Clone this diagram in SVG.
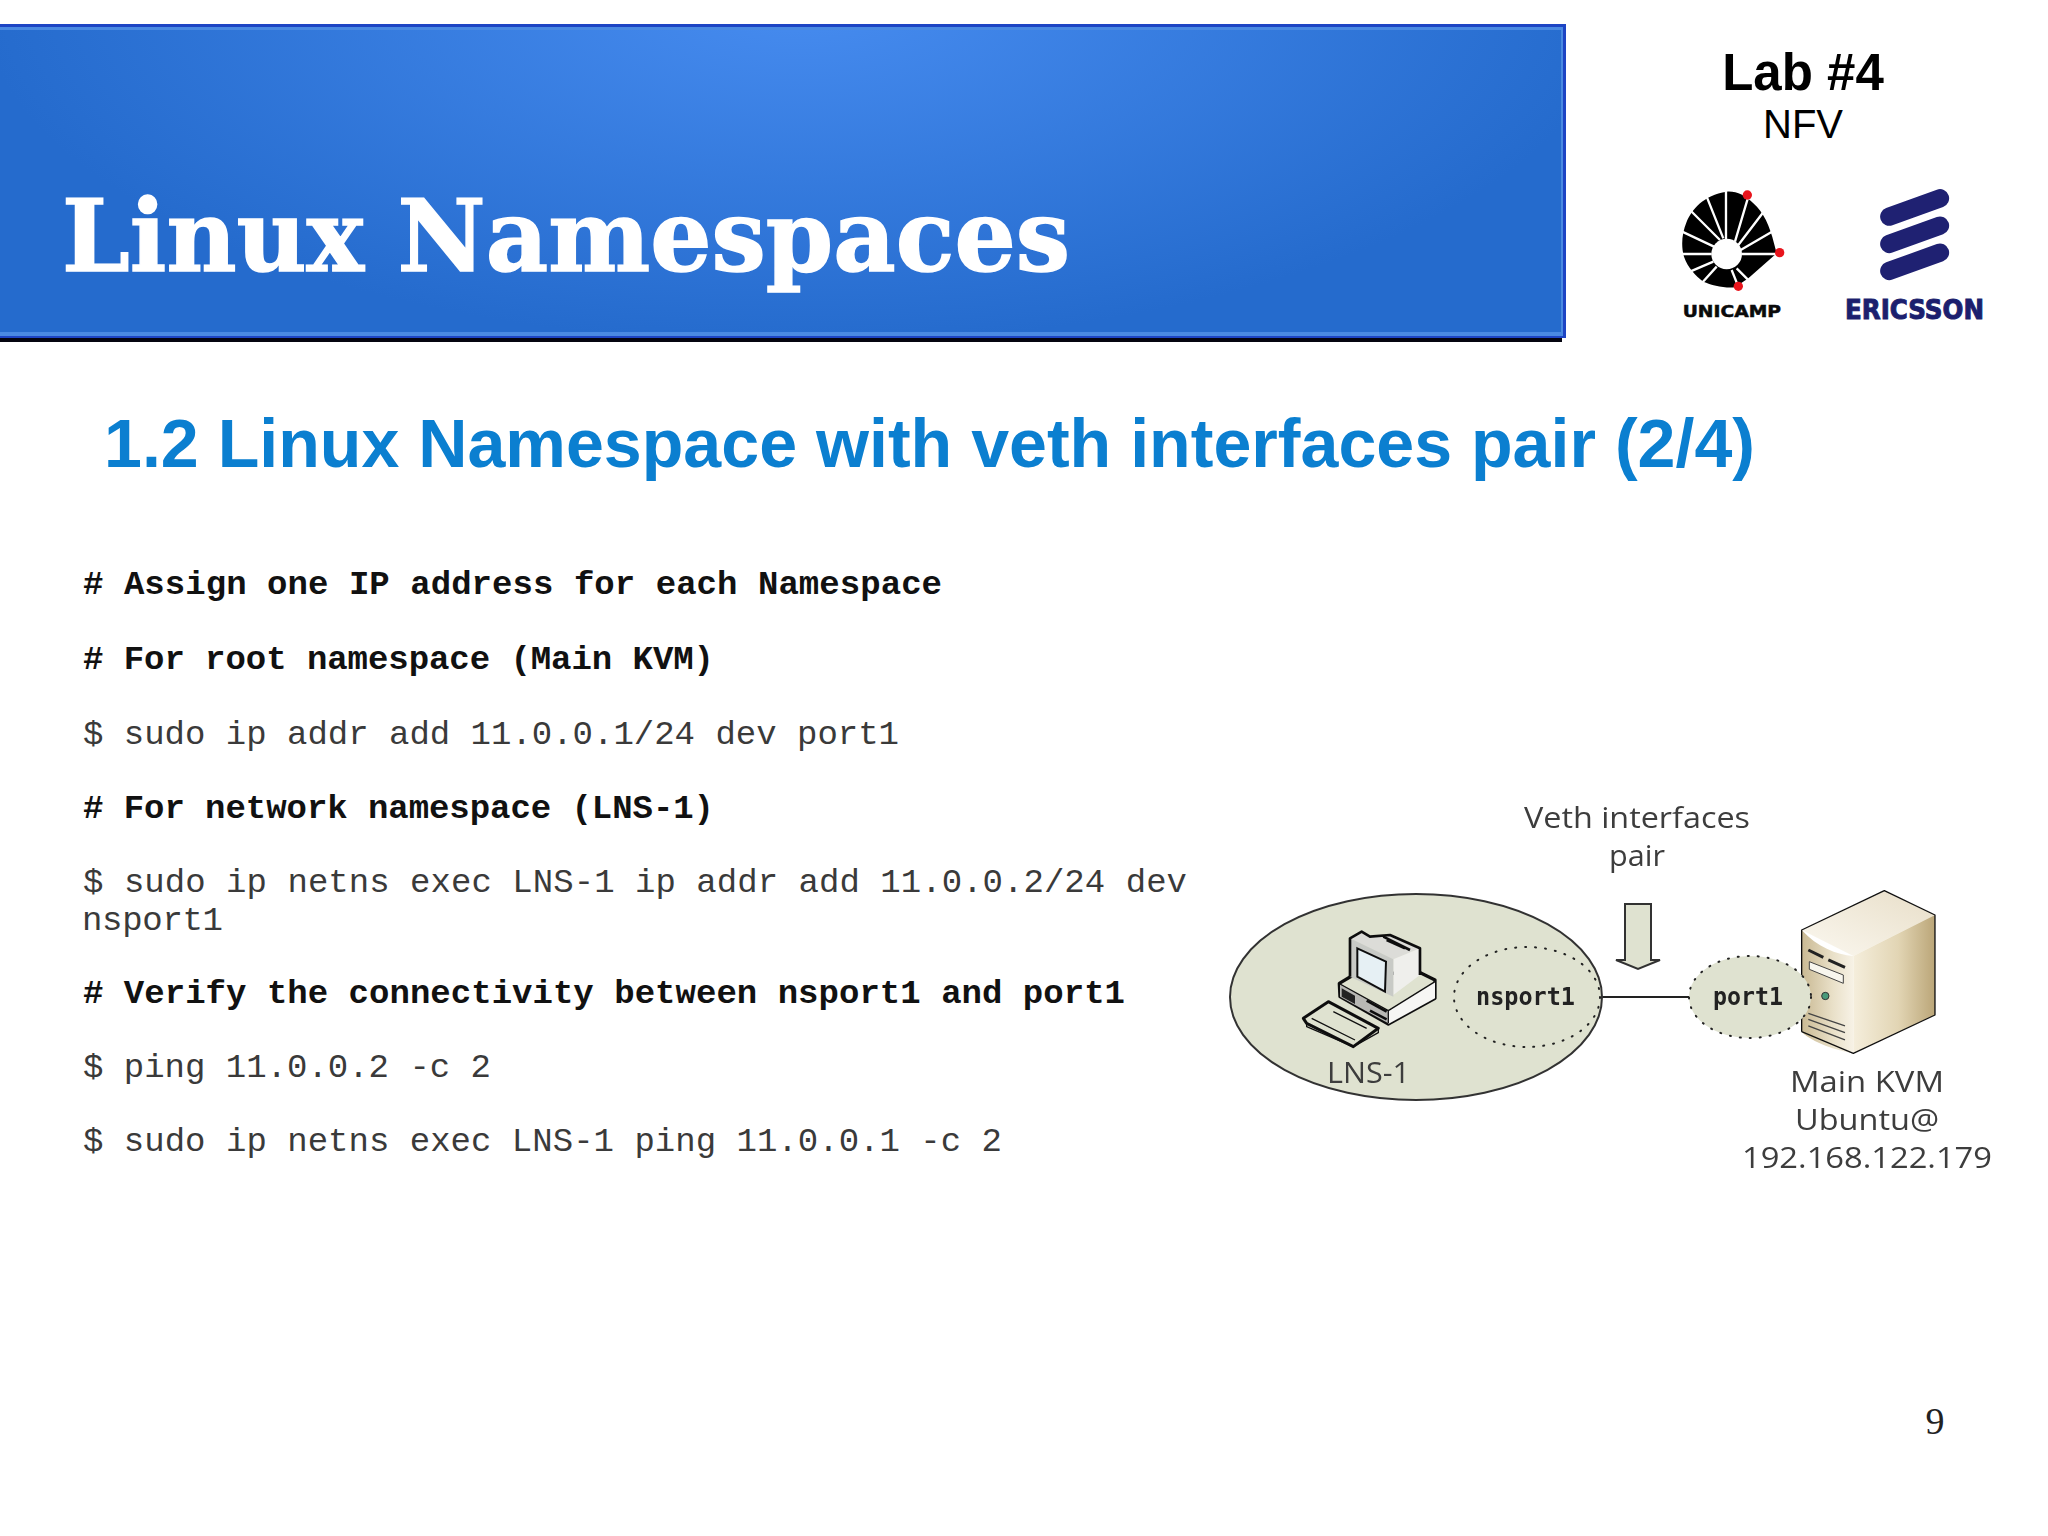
<svg xmlns="http://www.w3.org/2000/svg" width="2048" height="1536" viewBox="0 0 2048 1536">
<style>
.code{font-family:"Liberation Mono",monospace;font-size:34px;fill:#3a3a3a}
.b{font-weight:700;fill:#111}
.lbl{font-family:"Open Sans","Noto Sans",sans-serif;font-size:30px;fill:#3c3c3c}
.port{font-family:"DejaVu Sans Mono",monospace;font-weight:700;font-size:25px;fill:#222}
.dot{fill:#dfe2d0;stroke:#222;stroke-width:2;stroke-dasharray:1 9;stroke-linecap:round}
.blk{fill:none;stroke:#111;stroke-linejoin:round}
</style>
<defs>
<radialGradient id="bg" gradientUnits="userSpaceOnUse" cx="800" cy="0" r="820" gradientTransform="translate(0 0) scale(1 .42)">
<stop offset="0" stop-color="#478cf0"/><stop offset="1" stop-color="#256bcd"/>
</radialGradient>
<linearGradient id="sr" x1="0" x2="1" y1="0" y2="0"><stop offset="0" stop-color="#f5eedc"/><stop offset=".55" stop-color="#e2d5b4"/><stop offset="1" stop-color="#bba678"/></linearGradient>
<linearGradient id="sl" x1="0" x2="1" y1="0" y2="0"><stop offset="0" stop-color="#c9b993"/><stop offset=".6" stop-color="#e9e0c8"/><stop offset="1" stop-color="#f7f2e6"/></linearGradient>
<linearGradient id="st" x1="0" x2="1" y1="1" y2="0"><stop offset="0" stop-color="#fbf8f0"/><stop offset="1" stop-color="#e8dec8"/></linearGradient>
<filter id="soft" x="-5%" y="-5%" width="110%" height="110%"><feGaussianBlur stdDeviation="0.7"/></filter>
</defs>

<g id="banner">
<rect x="0" y="338" width="1562" height="4" fill="#050510"/>
<rect x="0" y="24" width="1566" height="314" fill="#1d45c4"/>
<rect x="0" y="27" width="1563" height="309" fill="#4a8ae2"/>
<rect x="0" y="30" width="1561" height="302" fill="url(#bg)"/>
<text x="62" y="271" font-family="'DejaVu Serif',serif" font-weight="700" font-size="100" fill="#fff" stroke="#fff" stroke-width="1.5" textLength="1008" lengthAdjust="spacingAndGlyphs">Linux Namespaces</text>
</g>

<g id="lab-title" font-family="'Liberation Sans',sans-serif" text-anchor="middle" fill="#000">
<text x="1803" y="90" font-size="51" font-weight="700">Lab #4</text>
<text x="1803" y="138" font-size="40">NFV</text>
</g>

<g id="unicamp-logo" transform="translate(1620 20) scale(.3333)">
<path d="M320 515C350 513 375 525 400 550C430 575 450 620 462 670L470 700L385 775L345 802C310 805 275 795 250 785C225 765 205 745 192 710C183 680 185 640 200 605C215 570 250 525 320 515Z" fill="#000"/>
<g stroke="#fff" stroke-width="7" fill="none">
<path d="M318 660V505M345 665L385 530M355 675L435 570M362 690L465 630M365 702H475M350 745L395 790M335 750L355 800M290 740L245 790M280 725L210 755M275 702H180M282 680L180 632M300 660L210 570M310 655L260 530"/>
</g>
<circle cx="320" cy="702" r="46" fill="#fff"/>
<circle cx="382" cy="525" r="14" fill="#e8141c"/><circle cx="479" cy="698" r="14" fill="#e8141c"/><circle cx="355" cy="799" r="14" fill="#e8141c"/>
<text x="188" y="890" font-family="'DejaVu Sans',sans-serif" font-weight="700" font-size="48" fill="#0a0a0a" stroke="#0a0a0a" stroke-width="1.5" textLength="295" lengthAdjust="spacingAndGlyphs">UNICAMP</text>
</g>

<g id="ericsson-logo" transform="translate(1620 20) scale(.3333)">
<g stroke="#1f2172" stroke-width="55" stroke-linecap="round"><path d="M808 590L960 535M808 672L960 617M808 753L960 698"/></g>
<text x="675" y="898" font-family="'DejaVu Sans',sans-serif" font-weight="700" font-size="80" fill="#1c1f6e" stroke="#1c1f6e" stroke-width="3" textLength="417" lengthAdjust="spacingAndGlyphs">ERICSSON</text>
</g>

<text id="subtitle" x="104" y="467" font-family="'Liberation Sans',sans-serif" font-weight="700" font-size="68" fill="#0b7fd0" textLength="1651" lengthAdjust="spacingAndGlyphs">1.2 Linux Namespace with veth interfaces pair (2/4)</text>

<g id="commands">
<text class="code b" x="83" y="594" textLength="859" lengthAdjust="spacing"># Assign one IP address for each Namespace</text>
<text class="code b" x="83" y="669" textLength="631" lengthAdjust="spacing"># For root namespace (Main KVM)</text>
<text class="code" x="83" y="744" textLength="816" lengthAdjust="spacing">$ sudo ip addr add 11.0.0.1/24 dev port1</text>
<text class="code b" x="83" y="818" textLength="631" lengthAdjust="spacing"># For network namespace (LNS-1)</text>
<text class="code" x="83" y="892" textLength="1104" lengthAdjust="spacing">$ sudo ip netns exec LNS-1 ip addr add 11.0.0.2/24 dev</text>
<text class="code" x="82" y="930" textLength="141" lengthAdjust="spacing">nsport1</text>
<text class="code b" x="83" y="1003" textLength="1042" lengthAdjust="spacing"># Verify the connectivity between nsport1 and port1</text>
<text class="code" x="83" y="1077" textLength="408" lengthAdjust="spacing">$ ping 11.0.0.2 -c 2</text>
<text class="code" x="83" y="1151" textLength="919" lengthAdjust="spacing">$ sudo ip netns exec LNS-1 ping 11.0.0.1 -c 2</text>
</g>

<g id="page-number"><text x="1935" y="1434" font-family="'Liberation Serif',serif" font-size="38" text-anchor="middle" fill="#222">9</text></g>

<g filter="url(#soft)">
<g id="connectors">
<path d="M1601 997H1691" stroke="#222" stroke-width="2" fill="none"/>
<path d="M1625 904H1651V960H1660L1638 969L1616 960H1625Z" fill="#dfe2d0" stroke="#333" stroke-width="2"/>
</g>
<g id="lns-1">
<ellipse cx="1416" cy="997" rx="186" ry="103" fill="#dfe2d0" stroke="#333" stroke-width="2"/>
<g transform="translate(1270 880) scale(.3333)">
<path d="M208 310L245 288L445 275L495 300V355L355 432L210 350Z" fill="#f2f2ee" class="blk" stroke-width="10"/>
<path d="M210 312L355 392V430L210 350Z" fill="#b8b8b4"/>
<path d="M355 392L495 305V355L355 432Z" fill="#f6f6f4"/>
<path d="M215 325L255 347V372L215 350Z" fill="#222"/>
<path d="M290 362L350 395M300 392L350 418" stroke="#111" stroke-width="8" fill="none"/>
<path d="M355 392V430M210 312L355 392L495 305" class="blk" stroke-width="4"/>
<path d="M240 175L275 155L300 170L360 165L450 205L370 238Z" fill="#dcdcd8"/>
<path d="M370 238L450 205V285L370 345Z" fill="#efefec"/>
<path d="M240 175L370 238V350L240 290Z" fill="#c8cac6"/>
<path d="M262 205L348 245L345 335L262 290Z" fill="#e6f0f4" stroke="#111" stroke-width="6"/>
<path d="M240 290V175L275 155L300 170L360 165L450 205V285M340 170L420 210M350 180L405 205" class="blk" stroke-width="8"/>
<path d="M100 415L175 365L325 445L250 500L110 430Z" fill="#e6e8dc" class="blk" stroke-width="9"/>
<path d="M110 430V440L250 500L325 458V445M125 415L255 480M190 395L290 445" class="blk" stroke-width="4"/>
</g>
<text class="lbl" x="1327" y="1083" textLength="83" lengthAdjust="spacingAndGlyphs">LNS-1</text>
</g>
<g id="nsport1">
<ellipse class="dot" cx="1527" cy="997" rx="73" ry="50"/>
<text class="port" x="1476" y="1005" textLength="99" lengthAdjust="spacingAndGlyphs">nsport1</text>
</g>
<g id="main-kvm">
<g transform="translate(1750 880) scale(.3333)">
<path d="M155 150L403 32L555 105L310 228Z" fill="url(#st)"/>
<path d="M310 228L555 105V405L310 520Z" fill="url(#sr)"/>
<path d="M155 150C200 200 260 225 310 228V520C260 510 190 490 155 455Z" fill="url(#sl)"/>
<path d="M155 455V150L403 32L555 105V405L310 520L155 455" class="blk" stroke="#333" stroke-width="4"/>
<path d="M175 210L220 232M235 240L285 262" stroke="#222" stroke-width="9" fill="none"/>
<path d="M178 245L280 285V310L178 268Z" fill="#f8f6ee" stroke="#444" stroke-width="3"/>
<circle cx="226" cy="348" r="11" fill="#4a9a7a" stroke="#333" stroke-width="3"/>
<path d="M175 400L285 438M175 418L285 458M175 438L285 480" stroke="#444" stroke-width="4" fill="none"/>
</g>
<text class="lbl" x="1867" y="1092" text-anchor="middle" textLength="154" lengthAdjust="spacingAndGlyphs">Main KVM</text>
<text class="lbl" x="1867" y="1130" text-anchor="middle" textLength="144" lengthAdjust="spacingAndGlyphs">Ubuntu@</text>
<text class="lbl" x="1867" y="1168" text-anchor="middle" textLength="250" lengthAdjust="spacingAndGlyphs">192.168.122.179</text>
</g>
<g id="port1">
<ellipse class="dot" cx="1750" cy="997" rx="61" ry="41"/>
<text class="port" x="1713" y="1005" textLength="70" lengthAdjust="spacingAndGlyphs">port1</text>
</g>
<g id="veth-label">
<text class="lbl" x="1637" y="828" text-anchor="middle" textLength="226" lengthAdjust="spacingAndGlyphs">Veth interfaces</text>
<text class="lbl" x="1637" y="866" text-anchor="middle" textLength="56" lengthAdjust="spacingAndGlyphs">pair</text>
</g>
</g>
</svg>
